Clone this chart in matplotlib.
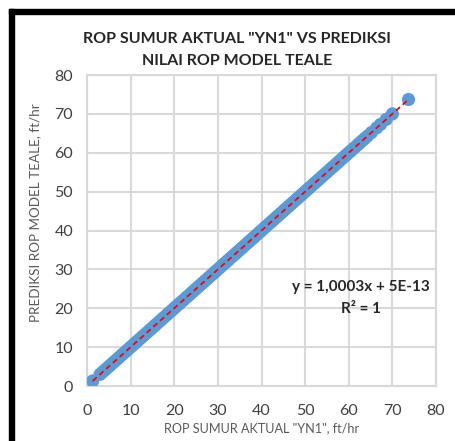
import numpy as np
import matplotlib
matplotlib.use("Agg")
import matplotlib.pyplot as plt
from matplotlib.patches import Rectangle

# ROP data (ft/hr)
rop_aktual = [1.3, 3.0, 3.6, 4.2, 4.8, 5.3, 5.9, 6.4, 7.0, 7.5, 8.1, 8.7, 9.2, 9.8,
              10.3, 10.9, 11.5, 12.0, 12.6, 13.1, 13.7, 14.3, 14.8, 15.4, 15.9, 16.5,
              17.1, 17.6, 18.2, 18.7, 19.3, 19.9, 20.4, 21.0, 21.5, 22.1, 22.7, 23.2,
              23.8, 24.3, 24.9, 25.5, 26.0, 26.6, 27.1, 27.7, 28.3, 28.8, 29.4, 29.9,
              30.5, 31.1, 31.6, 32.2, 32.7, 33.3, 33.9, 34.4, 35.0, 35.5, 36.1, 36.7,
              37.2, 37.8, 38.3, 38.9, 39.5, 40.0, 40.6, 41.1, 41.7, 42.3, 42.8, 43.4,
              43.9, 44.5, 45.1, 45.6, 46.2, 46.7, 47.3, 47.9, 48.4, 49.0, 49.5, 50.1,
              50.7, 51.2, 51.8, 52.3, 52.9, 53.5, 54.0, 54.6, 55.1, 55.7, 56.3, 56.8,
              57.4, 57.9, 58.5, 59.1, 59.6, 60.2, 60.7, 61.3, 61.9, 62.4, 63.0, 63.6,
              64.3, 65.2, 66.4, 67.3, 68.6, 70.0, 73.7]
rop_prediksi = [1.3, 3.0, 3.6, 4.2, 4.8, 5.3, 5.9, 6.4, 7.0, 7.5, 8.1, 8.7, 9.2, 9.8,
                10.3, 10.9, 11.5, 12.0, 12.6, 13.1, 13.7, 14.3, 14.8, 15.4, 15.9, 16.5,
                17.1, 17.6, 18.2, 18.7, 19.3, 19.9, 20.4, 21.0, 21.5, 22.1, 22.7, 23.2,
                23.8, 24.3, 24.9, 25.5, 26.0, 26.6, 27.1, 27.7, 28.3, 28.8, 29.4, 29.9,
                30.5, 31.1, 31.6, 32.2, 32.7, 33.3, 33.9, 34.4, 35.0, 35.5, 36.1, 36.7,
                37.2, 37.8, 38.3, 38.9, 39.5, 40.0, 40.6, 41.1, 41.7, 42.3, 42.8, 43.4,
                43.9, 44.5, 45.1, 45.6, 46.2, 46.7, 47.3, 47.9, 48.4, 49.0, 49.5, 50.1,
                50.7, 51.2, 51.8, 52.3, 52.9, 53.5, 54.0, 54.6, 55.1, 55.7, 56.3, 56.8,
                57.4, 57.9, 58.5, 59.1, 59.6, 60.2, 60.7, 61.3, 61.9, 62.4, 63.0, 63.6,
                64.3, 65.2, 66.4, 67.3, 68.6, 70.0, 73.7]
ticks = [0, 10, 20, 30, 40, 50, 60, 70, 80]

plt.rcParams['font.family'] = ['Lato', 'DejaVu Sans']

fig = plt.figure(figsize=(4.56, 4.41), dpi=100)
W, H = 456, 441
ax = fig.add_axes([87 / W, 1 - 386 / H, (436 - 87) / W, (386 - 75) / H])

x = np.array(rop_aktual)
y = np.array(rop_prediksi)
ax.scatter(x, y, s=90, color='#5B9BD5', edgecolors='none', zorder=3)

# linear trendline
m, c = np.polyfit(x, y, 1)
xs = np.array([x.min(), x.max()])
ax.plot(xs, m * xs + c, color='#FF0000', linestyle=(0, (3, 2)), lw=1.3, zorder=4)

ax.set_xlim(0, 80)
ax.set_ylim(0, 80)
ax.set_xticks(ticks)
ax.set_yticks(ticks)
ax.grid(True, color='#D9D9D9', lw=1.5)
ax.set_axisbelow(True)
for s in ax.spines.values():
    s.set_color('#D9D9D9')
    s.set_linewidth(1.5)
ax.tick_params(length=0, labelsize=11.5, colors='#404040')
ax.tick_params(axis='x', pad=13)
ax.tick_params(axis='y', pad=10)

ax.set_xlabel('ROP SUMUR AKTUAL "YN1", ft/hr', fontsize=9.1, color='#595959', va='center')
ax.set_ylabel('PREDIKSI ROP MODEL TEALE, ft/hr', fontsize=9.7, color='#595959', va='center')
ax.xaxis.set_label_coords(0.5, (386 - 428) / 311)
ax.yaxis.set_label_coords((35 - 87) / 349, (386 - 213) / 311)

fig.text(237 / W, 1 - 50 / H, 'ROP SUMUR AKTUAL "YN1" VS PREDIKSI\nNILAI ROP MODEL TEALE',
         ha='center', va='center', fontsize=11.5, fontweight='bold', color='#262626',
         linespacing=1.65)

ax.text(0.785, 0.283, 'y = 1,0003x + 5E-13\nR² = 1', transform=ax.transAxes,
        ha='center', va='center', fontsize=11, fontweight='bold', color='#262626',
        multialignment='center', linespacing=1.7)

# black frame on left and top edges
fig.patches.append(Rectangle((9 / W, 0), 5 / W, 1 - 9 / H, transform=fig.transFigure,
                             color='black', zorder=10))
fig.patches.append(Rectangle((9 / W, 1 - 14 / H), 1 - 9 / W, 5 / H, transform=fig.transFigure,
                             color='black', zorder=10))

fig.savefig('out.png', dpi=100)
